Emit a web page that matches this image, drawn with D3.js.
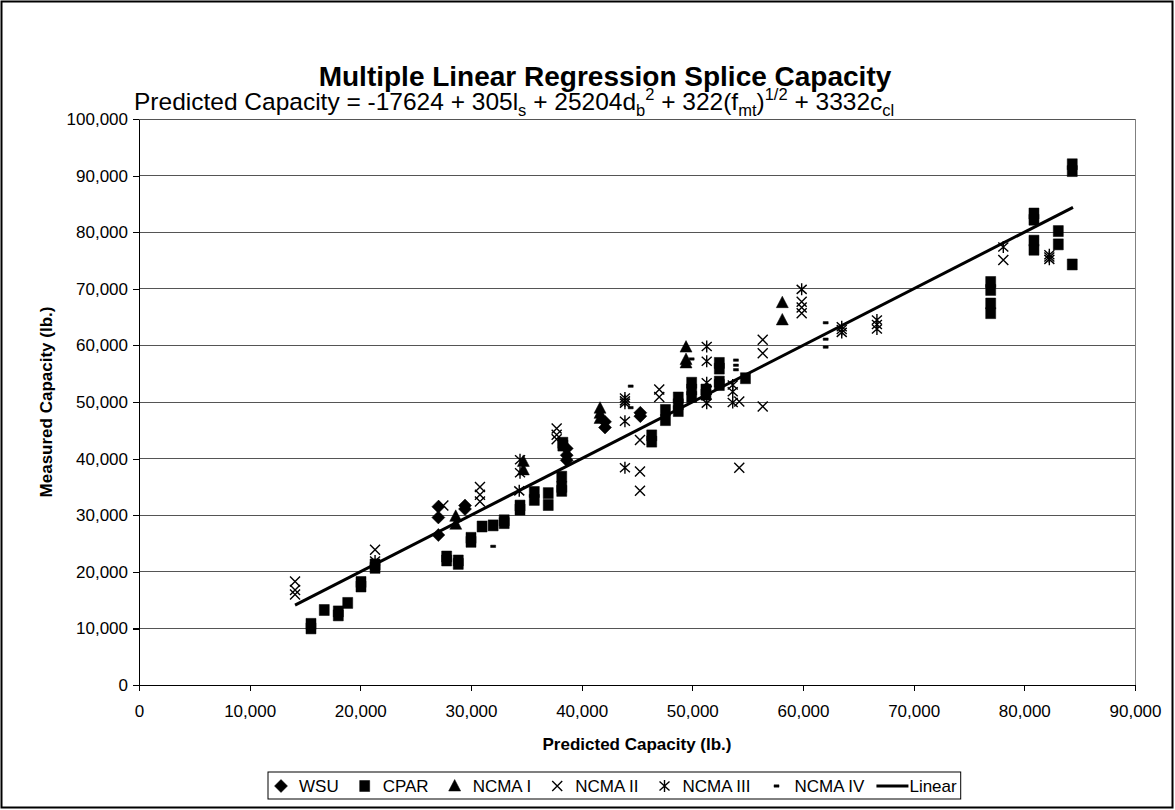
<!DOCTYPE html>
<html><head><meta charset="utf-8">
<script src="https://cdn.jsdelivr.net/npm/d3@7/dist/d3.min.js"></script>
<style>body{margin:0;background:#fff}svg{display:block}text{font-family:Arial,"Liberation Sans",sans-serif;fill:#000}</style>
</head><body>
<svg id="chart" width="1175" height="810"></svg>
<script>
// ---- tick values ----
const xTickValues = [0,10000,20000,30000,40000,50000,60000,70000,80000,90000];
const yTickValues = [0,10000,20000,30000,40000,50000,60000,70000,80000,90000,100000];

// ---- series: [predicted, measured] ----
const wsu = [[27050,31500],[27050,29600],[27050,26500],[29460,31700],[29460,31100],
  [38650,41800],[38650,40600],[38650,39700],[42110,46500],[42110,45500],[45300,48100],[45300,47500]];
const cpar = [[15540,10800],[15540,10000],[16740,13250],[18010,13000],[18010,12300],[18860,14500],
  [20060,18200],[20060,17400],[21330,21300],[21330,20700],[27800,22700],[27800,22000],[28850,22000],[28850,21400],
  [30000,26000],[30000,25300],[31000,28000],[32000,28200],[33000,28600],[33000,29100],
  [34430,31700],[34430,31000],[35720,34100],[35720,32700],[36980,33900],[36980,31800],
  [38200,36800],[38200,35000],[38200,34300],[38300,42800],[38300,42300],
  [46330,44100],[46330,43000],[47570,48600],[47570,46800],[48730,50800],[48730,49600],[48730,48400],
  [49940,53400],[49940,52200],[49940,50900],[51230,52200],[51230,51300],
  [52440,56900],[52440,55900],[52440,53600],[52440,53000],[54800,54200],
  [76960,71200],[76960,69800],[76960,67400],[76960,65700],
  [80870,83300],[80870,82200],[80870,78500],[80870,76900],[83070,80200],[83070,77850],
  [84330,92000],[84330,90800],[84330,74300]];
const ncma1 = [[28620,29800],[28620,28400],[34730,39500],[34730,38000],[41660,48900],[41660,48000],[41660,47100],
  [49430,59700],[49430,57500],[49430,56900],[58130,67550],[58130,64500]];
const ncma2 = [[14100,18300],[14100,16800],[14100,16000],[21330,23900],[27500,31700],
  [30810,35000],[30810,33600],[30810,32400],[37740,45300],[37740,44200],[37740,43400],
  [45270,43300],[45270,37700],[45270,34300],[47010,52200],[47010,50900],[54240,50100],[54240,38400],
  [56360,61000],[56360,58600],[56360,49200],[59880,67700],[59880,66700],[59880,65700],[78100,75100]];
const ncma3 = [[21330,21900],[34360,34300],[34430,39800],[34430,37500],
  [43910,50700],[43910,50200],[43910,49800],[43910,46600],[43910,38400],
  [51300,59800],[51300,57200],[51300,53400],[51300,52100],[51300,49800],
  [53650,53000],[53650,51800],[53650,49900],[59880,69900],
  [63500,63300],[63500,62800],[63500,62300],[66680,64500],[66680,63700],[66680,62900],
  [78100,77400],[82260,76000],[82260,75600],[82260,75200]];
const ncma4 = [[32000,24500],[44430,52800],[44430,49000],[49940,57600],
  [53940,57400],[53940,56500],[53940,55700],[62050,64000],[62050,61100],[62050,59700]];
const trendPredicted = [14100, 84400];
const trendMeasured = [14100, 84400];

const seriesNames = ["WSU","CPAR","NCMA I","NCMA II","NCMA III","NCMA IV"];

// ---- layout ----
const svg = d3.select("#chart");
const x = d3.scaleLinear().domain([0,90000]).range([139,1135]);
const y = d3.scaleLinear().domain([0,100000]).range([685,119]);
const fmt = d3.format(",");

svg.append("rect").attr("x",1.5).attr("y",1.5).attr("width",1171).attr("height",806)
  .attr("fill","#fff").attr("stroke","#000").attr("stroke-width",2);

// gridlines
svg.append("g").selectAll("line").data(yTickValues.filter(d=>d>0)).join("line")
  .attr("x1",x(0)).attr("x2",x(90000)).attr("y1",d=>y(d)).attr("y2",d=>y(d))
  .attr("stroke","#555").attr("stroke-width",1).attr("shape-rendering","crispEdges");
svg.append("line").attr("x1",x(90000)).attr("x2",x(90000)).attr("y1",y(100000)).attr("y2",y(0))
  .attr("stroke","#808080").attr("shape-rendering","crispEdges");

// axes
const yAxis = svg.append("g").attr("transform",`translate(${x(0)},0)`)
  .call(d3.axisLeft(y).tickValues(yTickValues).tickFormat(fmt).tickSize(6).tickSizeOuter(0).tickPadding(5));
const xAxis = svg.append("g").attr("transform",`translate(0,${y(0)})`)
  .call(d3.axisBottom(x).tickValues(xTickValues).tickFormat(d=>d===0?"0":fmt(d)).tickSize(6).tickSizeOuter(0).tickPadding(14));
[yAxis,xAxis].forEach(a=>{
  a.selectAll("path,line").attr("stroke","#000").attr("stroke-width",1.2).attr("shape-rendering","crispEdges");
  a.selectAll("text").attr("font-size",17).attr("font-family","Arial, Liberation Sans, sans-serif");
});

// marker shapes
const shapes = {
  "WSU": {d:"M0,-6.5L6.5,0L0,6.5L-6.5,0Z", fill:true},
  "CPAR": {d:"M-5,-5.5H5V5.5H-5Z", fill:true},
  "NCMA I": {d:"M0,-6.5L6,5L-6,5Z", fill:true},
  "NCMA II": {d:"M-5,-5L5,5M5,-5L-5,5", fill:false},
  "NCMA III": {d:"M-5,-4.5L5,4.5M5,-4.5L-5,4.5M0,-6L0,6", fill:false},
  "NCMA IV": {d:"M-2.5,-1.2H2.5V1.2H-2.5Z", fill:true}
};
function styleMarker(sel, name){
  const s = shapes[name];
  sel.attr("d", s.d)
    .attr("fill", s.fill ? "#000" : "none")
    .attr("stroke", "#000")
    .attr("stroke-width", s.fill ? 0.5 : 1.4);
}
const allSeries = [wsu,cpar,ncma1,ncma2,ncma3,ncma4];
allSeries.forEach((data,i)=>{
  svg.append("g").selectAll("path").data(data).join("path")
    .attr("transform",d=>`translate(${x(d[0])},${y(d[1])})`)
    .call(styleMarker, seriesNames[i]);
});

// trendline
svg.append("line")
  .attr("x1",x(trendPredicted[0])).attr("y1",y(trendMeasured[0]))
  .attr("x2",x(trendPredicted[1])).attr("y2",y(trendMeasured[1]))
  .attr("stroke","#000").attr("stroke-width",3);

// titles
svg.append("text").attr("x",605).attr("y",86).attr("text-anchor","middle")
  .attr("font-size",28).attr("font-weight","bold").text("Multiple Linear Regression Splice Capacity");
const sub = svg.append("text").attr("x",134).attr("y",110).attr("font-size",24.5);
const subParts = [
  ["Predicted Capacity = -17624 + 305l",0],["s",1],[" + 25204d",0],["b",1],["2",2],
  [" + 322(f",0],["mt",1],[")",0],["1/2",2],[" + 3332c",0],["cl",1]
];
let shift = 0;
subParts.forEach(([t,k])=>{
  const target = k===1?6:(k===2?-10:0);
  sub.append("tspan").attr("dy",target-shift).attr("font-size",k?16.5:24.5).text(t);
  shift = target;
});

svg.append("text").attr("x",(x(0)+x(90000))/2).attr("y",750).attr("text-anchor","middle")
  .attr("font-size",17).attr("font-weight","bold").text("Predicted Capacity (lb.)");
svg.append("text").attr("transform",`translate(52,${(y(0)+y(100000))/2}) rotate(-90)`)
  .attr("text-anchor","middle").attr("font-size",17).attr("font-weight","bold").text("Measured Capacity (lb.)");

// legend
const lg = svg.append("g");
const legendY = 786;
let cx = 281;
const box = lg.append("rect").attr("y",772).attr("height",27).attr("fill","#fff")
  .attr("stroke","#000").attr("stroke-width",1);
seriesNames.forEach(name=>{
  lg.append("path").attr("transform",`translate(${cx},${legendY})`).call(styleMarker,name);
  const t = lg.append("text").attr("x",cx+18).attr("y",legendY+6).attr("font-size",17).text(name);
  cx = cx + 18 + t.node().getComputedTextLength() + 26;
});
const lineStart = cx - 14;
lg.append("line").attr("x1",lineStart).attr("x2",lineStart+32).attr("y1",legendY).attr("y2",legendY)
  .attr("stroke","#000").attr("stroke-width",3);
const lt = lg.append("text").attr("x",lineStart+33).attr("y",legendY+6).attr("font-size",17).text("Linear");
const legendRight = lineStart + 33 + lt.node().getComputedTextLength() + 4;
box.attr("x",268).attr("width",legendRight-268);
</script>
</body></html>
